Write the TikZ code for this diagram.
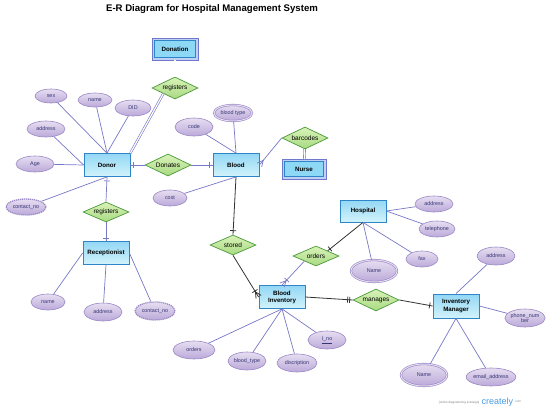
\documentclass[tikz,border=0pt]{standalone}
\usepackage{fontspec}
\setmainfont{Liberation Sans}
\usetikzlibrary{shapes.geometric,calc}
\definecolor{entb}{HTML}{2E86C8}
\definecolor{entt}{HTML}{93D7F5}
\definecolor{entbot}{HTML}{D2F3FB}
\definecolor{wentf}{HTML}{8DD8F5}
\definecolor{wentb}{HTML}{6F78CC}
\definecolor{wentg}{HTML}{BFD0F4}
\definecolor{relb}{HTML}{4A9A3A}
\definecolor{relt}{HTML}{D9F2B9}
\definecolor{relbot}{HTML}{A9DA82}
\definecolor{attb}{HTML}{9A88C6}
\definecolor{attt}{HTML}{E6DEF1}
\definecolor{attbot}{HTML}{BBA9D9}
\definecolor{atttx}{HTML}{353572}
\definecolor{lnc}{HTML}{7878C8}
\definecolor{crb}{HTML}{4A9BE0}
\newcommand\mybar[4]{\coordinate (tkp) at ($(#2)!#4!(#3)$);
  \draw[#1] ($(tkp)!3pt!90:(#3)$) -- ($(tkp)!3pt!-90:(#3)$);}
\newcommand\crowfoot[3]{\coordinate (cfa) at ($(#2)!6pt!(#3)$);
  \draw[#1] ($(#2)!3pt!90:(#3)$) -- (cfa) -- ($(#2)!3pt!-90:(#3)$);}
\newcommand\innerbox[1]{\draw[draw=entb, line width=0.7pt] ($(#1.north west)+(2.2,2.2)$) rectangle ($(#1.south east)+(-2.2,-2.2)$);}
\begin{document}
\begin{tikzpicture}[x=1pt,y=-1pt,
  ent/.style={rectangle, draw=entb, line width=0.8pt, top color=entt, bottom color=entbot,
    minimum width=46pt, minimum height=23pt, inner sep=1pt,
    font=\fontsize{6.2}{7.2}\selectfont\bfseries, align=center},
  went/.style={rectangle, draw=wentb, line width=0.9pt, fill=wentg, outer sep=0pt,
    minimum width=44pt, minimum height=20pt, inner sep=1pt,
    font=\fontsize{6.2}{7.2}\selectfont\bfseries},
  rel/.style={diamond, aspect=2, draw=relb, line width=0.7pt, top color=relt, bottom color=relbot,
    minimum width=46pt, minimum height=22pt, inner sep=0pt, font=\fontsize{6.5}{7.5}\selectfont},
  att/.style={ellipse, draw=attb, line width=0.6pt, top color=attt, bottom color=attbot,
    minimum width=36pt, minimum height=16pt, inner sep=0pt, align=center,
    font=\fontsize{5.4}{5.8}\selectfont, text=atttx},
  datt/.style={att, double=attt, double distance=1pt, line width=0.6pt},
  matt/.style={att, dash pattern=on 1.2pt off 0.8pt, line width=1.3pt},
  ln/.style={draw=lnc, line width=0.7pt},
  bk/.style={draw=black!80, line width=0.8pt},
  dbl/.style={draw=lnc, double=white, double distance=1.2pt, line width=0.6pt}]
\useasboundingbox (0,0) rectangle (550,410);
\fill[white] (0,0) rectangle (550,410);

\node[font=\fontsize{9.6}{11}\selectfont\bfseries] (title) at (212,9) {E-R Diagram for Hospital Management System};

% entities and relationships
\node[went, minimum width=46pt, minimum height=22pt] (donation) at (175,49) {};
\node[went] (nurse) at (304,169) {};
\innerbox{donation}
\innerbox{nurse}
\fill[wentf] ($(donation.north west)+(2.6,2.6)$) rectangle ($(donation.south east)+(-2.6,-2.6)$);
\fill[wentf] ($(nurse.north west)+(2.6,2.6)$) rectangle ($(nurse.south east)+(-2.6,-2.6)$);
\node[font=\fontsize{6.2}{7.2}\selectfont\bfseries] (donationtxt) at (donation) {Donation};
\node[font=\fontsize{6.2}{7.2}\selectfont\bfseries] (nursetxt) at (nurse) {Nurse};
\node[rel] (reg1) at (175,88) {registers};
\node[ent] (donor) at (107,165) {Donor};
\node[rel] (donates) at (168,165) {Donates};
\node[ent] (blood) at (236,165) {Blood};
\node[rel] (barcodes) at (305,138) {barcodes};
\node[rel, minimum height=20pt] (reg2) at (106,212) {registers};
\node[ent] (recep) at (106,253) {Receptionist};
\node[rel, minimum height=20pt] (stored) at (233,245) {stored};
\node[ent, minimum height=22pt] (hosp) at (363,211) {Hospital};
\node[rel, minimum height=20pt] (orders) at (316,256) {orders};
\node[ent] (binv) at (282,297) {Blood\\Inventory};
\node[rel] (manages) at (376,300) {manages};
\node[ent, minimum height=24pt] (imgr) at (456,306) {Inventory\\Manager};

% attributes
\node[att, minimum width=32pt, minimum height=14pt] (sex) at (51,96) {sex};
\node[att, minimum width=34pt, minimum height=14pt] (dname) at (95,100) {name};
\node[att] (did) at (133,108) {DID};
\node[att, minimum width=38pt] (daddr) at (46,129) {address};
\node[att, minimum width=38pt] (age) at (35,164) {Age};
\node[matt, minimum width=40pt] (dcont) at (26,207) {contact\_no};
\node[att, minimum width=38pt, minimum height=18pt] (code) at (194,127) {code};
\node[datt, minimum width=38pt] (btype) at (233,113) {blood type};
\node[att, minimum width=34pt] (cost) at (170,198) {cost};
\node[att, minimum width=34pt] (rname) at (48,302) {name};
\node[att, minimum width=38pt, minimum height=18pt] (raddr) at (103,312) {address};
\node[matt, minimum width=40pt, minimum height=18pt] (rcont) at (155,311) {contact\_no};
\node[att, minimum width=38pt] (haddr) at (434,204) {address};
\node[att] (htel) at (437,229) {telephone};
\node[att, minimum width=32pt] (hfax) at (422,259) {fax};
\node[datt, minimum width=46pt, minimum height=22pt] (hname) at (374,271) {Name};
\node[att, minimum width=38pt, minimum height=18pt] (iaddr) at (496,256) {address};
\node[att, minimum width=38pt, minimum height=18pt] (iphone) at (525,318) {phone\_num\\ber};
\node[datt, minimum width=46pt, minimum height=22pt] (iname) at (424,375) {Name};
\node[att, minimum width=46pt, minimum height=18pt] (iemail) at (491,377) {email\_address};
\node[att, minimum width=42pt, minimum height=18pt] (bord) at (194,350) {orders};
\node[att, minimum width=38pt, minimum height=18pt] (btyp) at (247,361) {blood\_type};
\node[att, minimum width=40pt, minimum height=18pt] (bdesc) at (297,363) {discription};
\node[att, minimum width=38pt, minimum height=18pt] (bino) at (327,340) {\underline{I\_no}};

% connectors
\draw[dbl] (donation) -- (reg1);
\draw[dbl] (reg1.south west) -- (donor.north east);
\draw[ln] (sex) -- (donor.north);
\draw[ln] (dname) -- (donor.north);
\draw[ln] (did) -- (donor.north);
\draw[ln] (daddr) -- (donor.west);
\draw[ln] (age) -- (donor.west);
\draw[ln] (dcont) -- (donor.south);
\draw[ln] (donor.east) -- (donates.west);
\mybar{ln}{donor.east}{donates.west}{3pt}
\draw[ln] (donates.east) -- (blood.west);
\mybar{ln}{blood.west}{donates.east}{3pt}
\draw[ln] (donor.south) -- (reg2.north);
\mybar{ln}{donor.south}{reg2.north}{4pt}
\draw[ln] (reg2.south) -- (recep.north);
\mybar{ln}{recep.north}{reg2.south}{3pt}
\draw[ln] (code) -- (blood.north);
\draw[ln] (btype) -- (blood.north);
\draw[ln] (cost) -- (blood.south);
\draw[ln] (barcodes.west) -- (blood.east);
\crowfoot{ln}{blood.east}{barcodes.west}
\draw[dbl] (barcodes) -- (nurse);
\draw[ln] (recep.west) -- (rname);
\draw[ln] (recep.south) -- (raddr);
\draw[ln] (recep.east) -- (rcont);
\draw[bk] (blood.south) -- (stored.north);
\mybar{bk}{stored.north}{blood.south}{4pt}
\draw[bk] (stored.south) -- (binv.west);
\crowfoot{bk}{binv.west}{stored.south}
\mybar{bk}{binv.west}{stored.south}{7pt}
\draw[bk] (hosp.south) -- (orders.north east);
\mybar{bk}{orders.north east}{hosp.south}{3pt}
\draw[ln] (orders.south west) -- (binv.north);
\crowfoot{ln}{binv.north}{orders.south west}
\mybar{ln}{binv.north}{orders.south west}{7pt}
\draw[ln] (hosp.east) -- (haddr);
\draw[ln] (hosp.east) -- (htel);
\draw[ln] (hosp.south) -- (hfax);
\draw[ln] (hosp.south) -- (hname);
\draw[bk] (binv.east) -- (manages.west);
\mybar{bk}{manages.west}{binv.east}{3pt}
\mybar{bk}{manages.west}{binv.east}{5pt}
\draw[bk] (manages.east) -- (imgr.west);
\mybar{bk}{imgr.west}{manages.east}{3pt}
\draw[ln] (imgr.north) -- (iaddr);
\draw[ln] (imgr.east) -- (iphone);
\draw[ln] (imgr.south) -- (iname);
\draw[ln] (imgr.south) -- (iemail);
\draw[ln] (binv.south) -- (bord);
\draw[ln] (binv.south) -- (btyp);
\draw[ln] (binv.south) -- (bdesc);
\draw[ln] (binv.south) -- (bino);

% watermark
\node[font=\fontsize{3}{3.5}\selectfont, text=gray, anchor=east, inner sep=0.5pt] (wm1) at (480,403) {[online diagramming \& design]};
\node[font=\fontsize{9}{9}\selectfont, text=crb, anchor=west, inner sep=0.5pt] (wm2) at (481,402) {creately};
\node[font=\fontsize{3}{3.5}\selectfont, text=gray, anchor=west, inner sep=0.5pt] (wm3) at (wm2.east) {.com};
\end{tikzpicture}
\end{document}
